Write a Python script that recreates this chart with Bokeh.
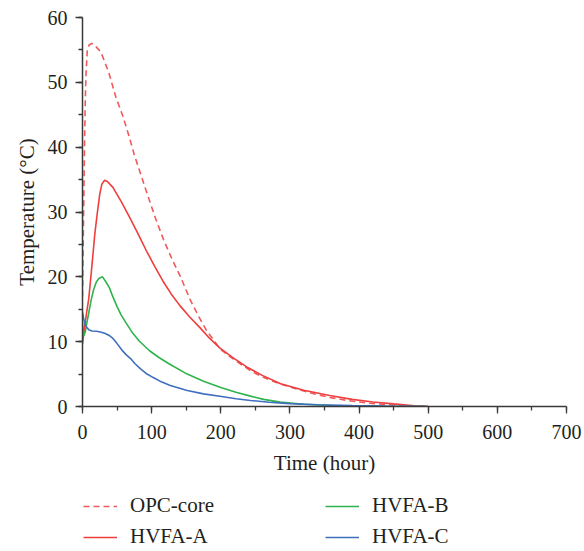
from bokeh.plotting import figure
from bokeh.models import Legend, LegendItem, SingleIntervalTicker
from bokeh.layouts import column
from bokeh.embed import file_html
from bokeh.resources import INLINE

# ---- data ----
opc_t = [0, 1, 2, 3, 4, 5, 7, 10, 13.5, 18, 22, 26.5, 32, 38.6, 48.3, 58, 67.6, 75, 84, 93.6, 105, 117.7,
         130, 141.8, 156, 168, 179.5, 190, 198.8, 212, 227.8, 245, 261.6, 285, 309.7, 333, 357.5, 385, 415,
         450, 480, 500]
opc_y = [17, 25, 33, 41, 47, 51, 55.2, 55.8, 56, 55.7, 55.2, 54.7, 53.2, 51.3, 47.7, 44.9, 41.6, 38.8, 35.9,
         32.8, 29.2, 25.6, 22.6, 20.0, 16.4, 13.9, 11.7, 10.2, 8.9, 7.8, 6.6, 5.4, 4.5, 3.5, 2.7, 2.0, 1.4,
         0.9, 0.5, 0.2, 0.05, 0]

a_t = [0, 3, 6, 9, 13, 17.8, 21, 25, 28, 32, 36, 44, 56, 68, 80, 92, 104, 116, 128, 140.6, 155, 169.5, 184,
       198.8, 218, 237.5, 260, 286.5, 320, 357.5, 390, 420, 450, 480, 500]
a_y = [9.7, 12.2, 14.5, 16.6, 21, 26.6, 29.5, 32.8, 34.3, 34.9, 34.7, 33.8, 31.6, 29.2, 26.7, 24.1, 21.7, 19.4,
       17.4, 15.6, 13.8, 12.2, 10.5, 9.0, 7.5, 6.1, 4.8, 3.5, 2.5, 1.7, 1.1, 0.7, 0.4, 0.12, 0]

b_t = [0, 2, 4, 7, 10, 12.5, 16, 20, 24, 29, 34, 39, 44, 50, 56, 63, 72, 82, 97, 110, 125, 151.5, 175, 201,
       222, 243, 262, 286, 320, 360, 420, 500]
b_y = [13, 10.9, 11.5, 13.3, 15, 16.4, 18, 19.2, 19.8, 20, 19.2, 18.3, 16.9, 15.4, 14.1, 12.9, 11.4, 10.1, 8.6,
       7.6, 6.6, 5.0, 3.9, 2.9, 2.2, 1.6, 1.1, 0.68, 0.35, 0.15, 0.05, 0]

c_t = [0, 2, 4, 6, 9.6, 14, 20, 26, 32, 38, 44, 50, 57, 63, 69.5, 76, 84, 92, 101.7, 114, 127, 151.5, 175,
       201, 222, 243, 270, 300, 340, 390, 440, 500]
c_y = [14.5, 13.4, 12.6, 12.2, 11.8, 11.65, 11.6, 11.5, 11.3, 11.0, 10.5, 9.7, 8.7, 8.0, 7.4, 6.6, 5.8, 5.1,
       4.5, 3.8, 3.24, 2.47, 1.95, 1.54, 1.2, 0.93, 0.65, 0.45, 0.28, 0.14, 0.06, 0]

series_names = ["OPC-core", "HVFA-A", "HVFA-B", "HVFA-C"]
series_colors = ["#f05a5a", "#ee3e3e", "#2fb34c", "#3f6fbf"]
series_dash = ["6 4", "solid", "solid", "solid"]

FONT = "Liberation Serif"
TXT = "#231f20"
AX = "#3a3a3a"

p = figure(frame_width=484, frame_height=389, x_range=(0, 700), y_range=(0, 60),
           output_backend="svg", toolbar_location=None,
           min_border_left=82, min_border_right=18, min_border_top=17, min_border_bottom=82,
           background_fill_color="white", border_fill_color="white")
p.outline_line_color = None
p.xgrid.visible = False
p.ygrid.visible = False

series = [(opc_t, opc_y), (a_t, a_y), (b_t, b_y), (c_t, c_y)]
for (t, y), col, dash in zip(series, series_colors, series_dash):
    p.line(t, y, line_color=col, line_width=1.6, line_dash=dash)

p.xaxis.ticker = SingleIntervalTicker(interval=100, num_minor_ticks=2)
p.yaxis.ticker = SingleIntervalTicker(interval=10, num_minor_ticks=2)
for ax in (p.xaxis[0], p.yaxis[0]):
    ax.axis_line_color = AX
    ax.axis_line_width = 1.5
    ax.major_tick_line_color = AX
    ax.minor_tick_line_color = AX
    ax.major_tick_line_width = 1.3
    ax.minor_tick_line_width = 1.3
    ax.major_tick_out = 7
    ax.major_tick_in = 0
    ax.minor_tick_out = 4
    ax.minor_tick_in = 0
    ax.major_label_text_font = FONT
    ax.major_label_text_font_size = "20px"
    ax.major_label_text_color = TXT
    ax.axis_label_text_font = FONT
    ax.axis_label_text_font_size = "21px"
    ax.axis_label_text_font_style = "normal"
    ax.axis_label_text_color = TXT
p.xaxis.major_label_standoff = 11
p.yaxis.major_label_standoff = 8
p.xaxis.axis_label = "Time (hour)"
p.yaxis.axis_label = "Temperature (°C)"
p.xaxis.axis_label_standoff = 9
p.yaxis.axis_label_standoff = 6

# legend strip below the chart: the same series, with a view range that shows none of their points
lg = figure(width=584, height=63, x_range=(0, 700), y_range=(-2, -1),
            x_axis_type=None, y_axis_type=None, output_backend="svg", toolbar_location=None,
            min_border_left=0, min_border_right=0, min_border_top=0, min_border_bottom=0,
            background_fill_color="white", border_fill_color="white")
lg.outline_line_color = None
lg.xgrid.visible = False
lg.ygrid.visible = False
items = []
for (t, y), name, col, dash in zip(series, series_names, series_colors, series_dash):
    r = lg.line(t, y, line_color=col, line_width=1.6, line_dash=dash)
    items.append(LegendItem(label=name, renderers=[r]))

legend = Legend(items=items, location=(1, 2), ncols=2)
legend.label_text_font = FONT
legend.label_text_font_size = "21px"
legend.label_text_color = TXT
legend.label_height = 24
legend.glyph_height = 24
legend.glyph_width = 34
legend.label_standoff = 13
legend.label_width = 189
legend.spacing = 6
legend.padding = 0
legend.margin = 0
legend.border_line_color = None
legend.background_fill_alpha = 0
lg.add_layout(legend, "center")

layout = column(p, lg, spacing=0)
open("out.html", "w").write(file_html(layout, INLINE))
